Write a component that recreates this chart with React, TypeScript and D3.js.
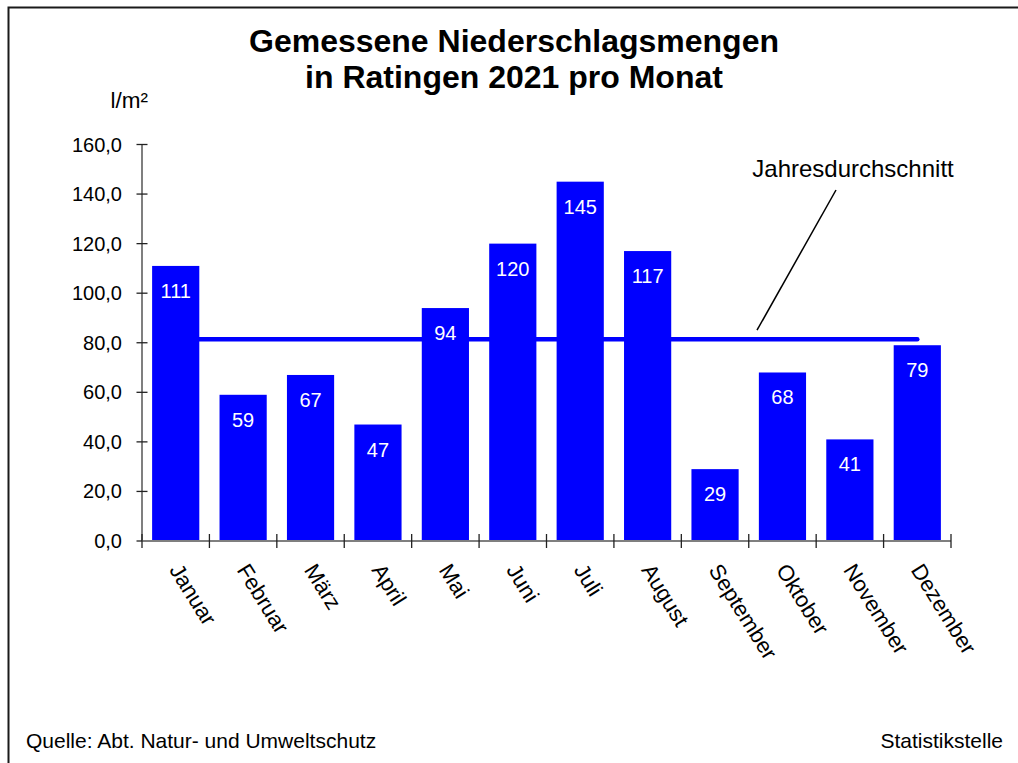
import React from "react";
import * as d3 from "d3";

const months = ["Januar","Februar","März","April","Mai","Juni","Juli","August","September","Oktober","November","Dezember"];
const values = [111, 59, 67, 47, 94, 120, 145, 117, 29, 68, 41, 79];
const yTicks = [0, 20, 40, 60, 80, 100, 120, 140, 160];
const titleLines = ["Gemessene Niederschlagsmengen", "in Ratingen 2021 pro Monat"];
const unitLabel = "l/m²";
const avgLabel = "Jahresdurchschnitt";
const sourceText = "Quelle: Abt. Natur- und Umweltschutz";
const creditText = "Statistikstelle";

const W = 1018, H = 763;
const FONT = "'Liberation Sans', Arial, Helvetica, sans-serif";

export default function App() {
  const left = 142, right = 951, top = 144.5, bottom = 541;
  const x = d3.scaleBand<string>().domain(months).range([left, right]).paddingInner(0.3).paddingOuter(0.15);
  const y = d3.scaleLinear().domain([0, 160]).range([bottom, top]);
  const avg = d3.mean(values) as number;
  const step = x.step();
  const boundaries = d3.range(months.length + 1).map((i) => left + i * step);
  const center = (m: string) => (x(m) as number) + x.bandwidth() / 2;
  const fmt = (v: number) => d3.format(".1f")(v).replace(".", ",");

  const avgY = y(avg);
  const annoStart = { x: 757, y: avgY - 9 };
  const annoEnd = { x: 836, y: 190 };

  return (
    <svg width={W} height={H} style={{ position: "absolute", left: 0, top: 0, background: "#fff" }} fontFamily={FONT}>
      <rect x={0} y={0} width={W} height={H} fill="#fff" />
      {/* frame */}
      <path d={`M8.5,${H + 5} V7.5 H${W + 5}`} fill="none" stroke="#1a1a1a" strokeWidth={2} />

      {/* title */}
      {titleLines.map((t, i) => (
        <text key={i} x={514} y={52 + i * 36} textAnchor="middle" fontSize={32} fontWeight="bold" fill="#000">{t}</text>
      ))}

      {/* unit label */}
      <text x={148} y={108} textAnchor="end" fontSize={22.5} fill="#000">{unitLabel}</text>

      {/* average line (behind bars) */}
      <line x1={center(months[0])} x2={center(months[months.length - 1])} y1={avgY} y2={avgY}
        stroke="#0000ff" strokeWidth={4.5} strokeLinecap="round" />

      {/* bars */}
      {values.map((v, i) => (
        <rect key={months[i]} x={x(months[i])} y={y(v)} width={x.bandwidth()} height={y(0) - y(v)} fill="#0000ff" />
      ))}
      {values.map((v, i) => (
        <text key={"l" + i} x={center(months[i])} y={y(v) + 32} textAnchor="middle" fontSize={20} fill="#fff">{v}</text>
      ))}

      {/* y axis */}
      <line x1={left} x2={left} y1={top} y2={bottom} stroke="#7f7f7f" strokeWidth={2} />
      {yTicks.map((t) => (
        <g key={t}>
          <line x1={left - 5.5} x2={left + 5.5} y1={y(t)} y2={y(t)} stroke="#222" strokeWidth={1.3} />
          <text x={122} y={y(t)} dy="0.35em" textAnchor="end" fontSize={20} fill="#000">{fmt(t)}</text>
        </g>
      ))}

      {/* x axis */}
      <line x1={left} x2={right} y1={bottom} y2={bottom} stroke="#7f7f7f" strokeWidth={2} />
      {boundaries.map((bx, i) => (
        <line key={i} x1={bx} x2={bx} y1={bottom - 7} y2={bottom + 7} stroke="#222" strokeWidth={1.3} />
      ))}
      {months.map((m) => {
        const px = center(m) - 7, py = 570;
        return (
          <text key={m} x={px} y={py} transform={`rotate(58,${px},${py})`} fontSize={22} fill="#000">{m}</text>
        );
      })}

      {/* annotation */}
      <line x1={annoStart.x} y1={annoStart.y} x2={annoEnd.x} y2={annoEnd.y} stroke="#000" strokeWidth={1.5} />
      <text x={853} y={177} textAnchor="middle" fontSize={24} fill="#000">{avgLabel}</text>

      {/* footer */}
      <text x={26} y={748} fontSize={21} fill="#000">{sourceText}</text>
      <text x={1003} y={748} textAnchor="end" fontSize={21} fill="#000">{creditText}</text>
    </svg>
  );
}
